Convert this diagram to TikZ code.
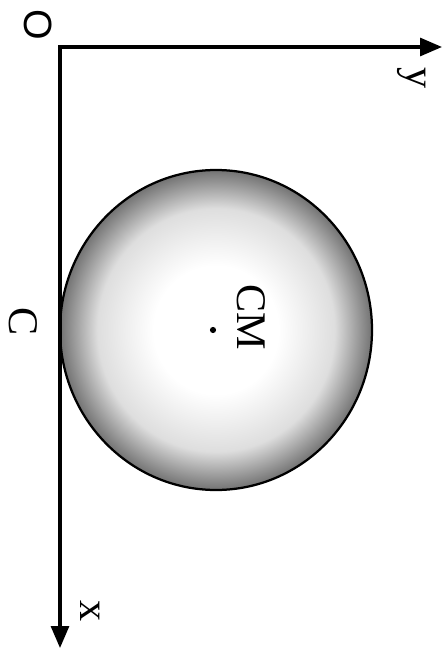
\documentclass[tikz,border=0pt]{standalone}
\usepackage{fontspec}
\setmainfont{Liberation Serif}
\setsansfont{Liberation Sans}
\usetikzlibrary{arrows.meta}

\pgfdeclareradialshading{bowl}{\pgfpoint{0bp}{0bp}}{%
    color(0bp)=(white); color(10bp)=(white);
    color(19bp)=(black!13); color(25bp)=(black!55);
    color(100bp)=(black!55)}

\begin{document}
\begin{tikzpicture}[
        x=0.025cm, y=-0.025cm,
        axis/.style={line width=2.2pt,
            -{Triangle[length=0.55cm,width=0.45cm]}},
        lbl/.style={rotate=-90, inner sep=0pt,
            font=\fontsize{30}{36}\selectfont}
    ]

    \useasboundingbox (0,0) rectangle (446,649);

    \coordinate (O)  at (60,47);
    \coordinate (Y)  at (442,47);
    \coordinate (X)  at (60,648);
    \coordinate (G)  at (216,330);

    % sphere
    \shade[shading=bowl, draw=black, line width=1.6pt]
        (G) ellipse (156 and 160);

    \draw[axis] ([xshift=-1.1pt]O) -- (Y);
    \draw[axis] ([yshift=1.1pt]O) -- (X);

    \fill (G) ++(-3,0) circle (2.2pt);

    \node[lbl, font=\fontsize{28}{34}\sffamily] (lO) at (38,25) {O};
    \node[lbl] (lY)  at (412,78)  {y};
    \node[lbl] (lC)  at (23,322)  {C};
    \node[lbl] (lCM) at (251,317) {CM};
    \node[lbl] (lX)  at (90,611)  {x};

\end{tikzpicture}
\end{document}
